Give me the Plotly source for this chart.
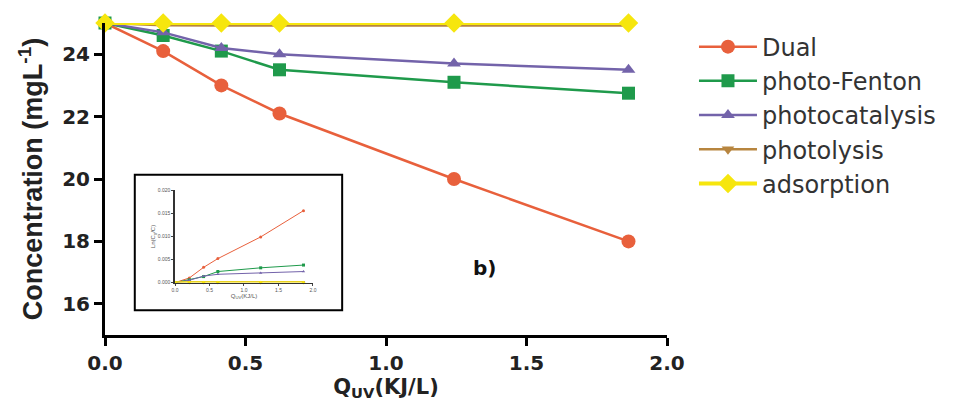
import plotly.graph_objects as go

# ---- data ----
q_uv = [0.0, 0.207, 0.414, 0.621, 1.242, 1.863]
series_names = ["Dual", "photo-Fenton", "photocatalysis", "photolysis", "adsorption"]
dual = [25.0, 24.1, 23.0, 22.1, 20.0, 18.0]
photo_fenton = [25.0, 24.6, 24.1, 23.5, 23.1, 22.75]
photocatalysis = [25.0, 24.7, 24.2, 24.0, 23.7, 23.5]
photolysis = [25.0, 24.93, 24.92, 24.92, 24.92, 24.92]
adsorption = [25.0, 25.0, 25.0, 25.0, 25.0, 25.0]

# inset (kinetics) data
inset_dual = [0.0, 0.001, 0.0033, 0.0052, 0.0099, 0.0156]
inset_fenton = [0.0, 0.0006, 0.0013, 0.0024, 0.0032, 0.0038]
inset_cat = [0.0, 0.0005, 0.0014, 0.0018, 0.0021, 0.0024]
inset_lys = [0.0, 0.0002, 0.0002, 0.0002, 0.0002, 0.0002]
inset_ads = [0.0, 0.0, 0.0, 0.0, 0.0, 0.0]

y_ticks = [16, 18, 20, 22, 24]
x_ticks = [0.0, 0.5, 1.0, 1.5, 2.0]
inset_y_ticks = [0.0, 0.005, 0.010, 0.015, 0.020]

colors = ["#E8603C", "#1F9A4B", "#7363AA", "#B7853F", "#F6E60E"]
symbols = ["circle", "square", "triangle-up", "triangle-down", "diamond"]
sizes = [14, 13, 12, 11, 15]
widths = [2.5, 2.5, 2.5, 2.5, 4]

main_vals = [dual, photo_fenton, photocatalysis, photolysis, adsorption]
inset_vals = [inset_dual, inset_fenton, inset_cat, inset_lys, inset_ads]

fig = go.Figure()
for i in range(5):
    fig.add_trace(go.Scatter(
        x=q_uv, y=main_vals[i], name=series_names[i], mode="lines+markers",
        line=dict(color=colors[i], width=widths[i]),
        marker=dict(color=colors[i], symbol=symbols[i], size=sizes[i]),
        cliponaxis=False, legendgroup=series_names[i], legendrank=i + 1,
        xaxis="x", yaxis="y"))

for i in range(5):
    fig.add_trace(go.Scatter(
        x=q_uv, y=inset_vals[i], mode="lines+markers", showlegend=False,
        line=dict(color=colors[i], width=1 if i < 4 else 2.5),
        marker=dict(color=colors[i], symbol=symbols[i], size=3),
        cliponaxis=False, xaxis="x2", yaxis="y2"))

arial = "Liberation Sans, Arial, sans-serif"
wide = "DejaVu Sans, Verdana, sans-serif"

fig.update_layout(
    width=957, height=412,
    margin=dict(l=97, r=298, t=12, b=85),
    paper_bgcolor="white", plot_bgcolor="white",
    font=dict(family=wide, color="#222"),
    showlegend=True,
    legend=dict(x=1.048, y=0.995, xanchor="left", yanchor="top",
                font=dict(family=wide, size=24, color="#333"), tracegroupgap=0,
                itemwidth=58, bgcolor="rgba(0,0,0,0)"),
    xaxis=dict(range=[0, 2.0], tickvals=x_ticks, ticktext=[f"{v:.1f}" for v in x_ticks],
               showline=True, linecolor="black", linewidth=3, ticks="outside",
               ticklen=8, tickwidth=2.5, tickcolor="black", showgrid=False, zeroline=False,
               tickfont=dict(family=wide, size=20, weight="bold", color="#222"),
               title=dict(text="Q<sub>UV</sub>(KJ/L)",
                          font=dict(family=wide, size=21, weight="bold", color="#222"),
                          standoff=4),
               domain=[0, 1]),
    yaxis=dict(range=[15, 25], tickvals=y_ticks, showline=True, linecolor="black", linewidth=3,
               ticks="outside", ticklen=8, tickwidth=2.5, tickcolor="black",
               showgrid=False, zeroline=False,
               tickfont=dict(family=wide, size=20, weight="bold", color="#222"),
               title=dict(text="Concentration (mgL<sup>-1</sup>)",
                          font=dict(family=arial, size=27, weight="bold", color="#222"),
                          standoff=12),
               domain=[0, 1]),
    xaxis2=dict(range=[0, 2.0], tickvals=x_ticks, ticktext=[f"{v:.1f}" for v in x_ticks],
                domain=[0.1246, 0.370], anchor="y2", showline=True, linecolor="#333",
                linewidth=1, ticks="outside", ticklen=2, tickwidth=0.8, showgrid=False,
                zeroline=False, tickfont=dict(family=arial, size=5, color="#555"),
                title=dict(text="Q<sub>UV</sub>(KJ/L)", font=dict(family=arial, size=6, color="#555"),
                           standoff=1)),
    yaxis2=dict(range=[0, 0.020], tickvals=inset_y_ticks,
                ticktext=[f"{v:.3f}" for v in inset_y_ticks],
                domain=[0.168, 0.4635], anchor="x2", showline=True, linecolor="#333",
                linewidth=1.5, ticks="outside", ticklen=2, tickwidth=0.8, showgrid=False,
                zeroline=False, tickfont=dict(family=arial, size=5, color="#555"),
                title=dict(text="Ln(C<sub>0</sub>/C)", font=dict(family=arial, size=6, color="#555"),
                           standoff=1)),
    shapes=[dict(type="rect", xref="paper", yref="paper", x0=0.053, x1=0.422,
                 y0=0.079, y1=0.514, line=dict(color="black", width=2), layer="below")],
    annotations=[dict(text="<b>b)</b>", xref="paper", yref="paper", x=0.675, y=0.215,
                      xanchor="center", yanchor="middle",
                      showarrow=False, font=dict(family=wide, size=20, color="#111"))],
)

fig.write_html("out.html")
